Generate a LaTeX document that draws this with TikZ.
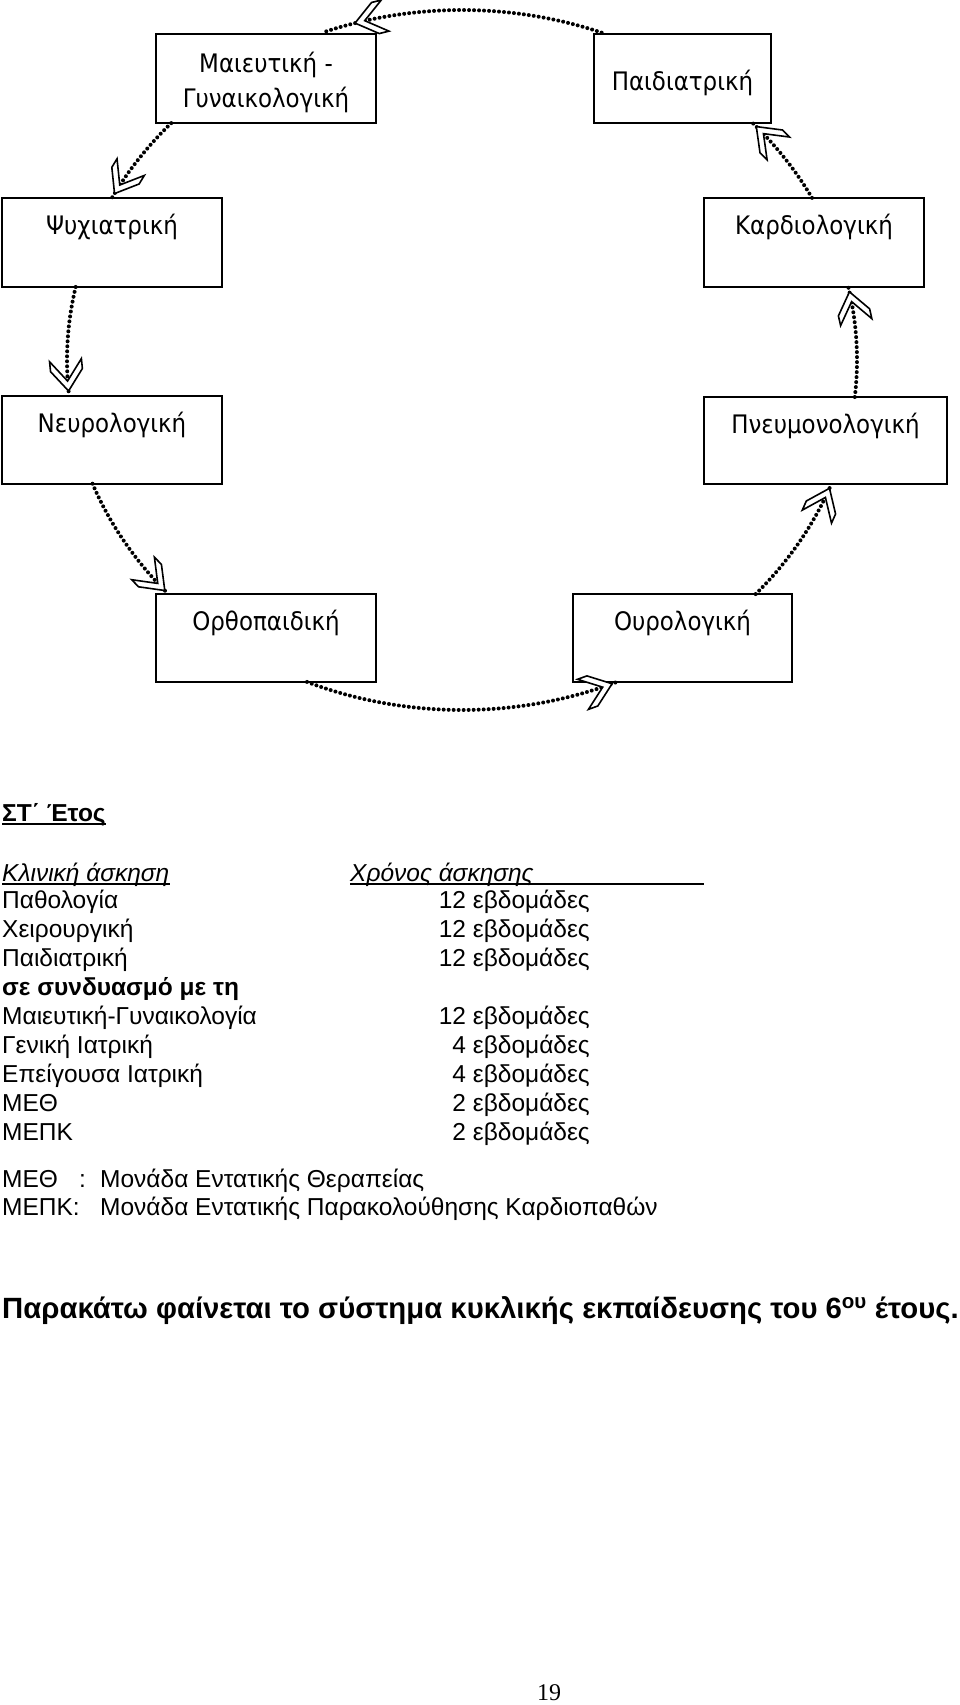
\documentclass[tikz,border=0pt]{standalone}
\usepackage{fontspec}
\setmainfont{Liberation Sans}
\newfontfamily\boxfont[FakeStretch=0.9]{DejaVu Sans}
\newfontfamily\pagefont{Liberation Serif}
\usetikzlibrary{calc,decorations.markings}
\newcommand{\chevtip}{\path[draw=black, fill=white, solid, line width=1.6pt, line join=miter, line cap=butt]
  (0,0) -- (-21,16) -- (-31,16) -- (-10,0) -- (-31,-16) -- (-21,-16) -- cycle;}
\begin{document}
\begin{tikzpicture}[x=1pt,y=1pt,
  box/.style={draw, line width=1.4pt, rectangle, inner sep=0pt, outer sep=0pt, anchor=north west},
  boxtext/.style={font=\boxfont\fontsize{25.5}{30}\selectfont, anchor=base, inner sep=0pt},
  conn/.style={line width=4pt, dash pattern=on 0pt off 5pt, line cap=round,
     postaction={decorate, decoration={markings, mark=at position #1 with {\chevtip}}}},
  conn/.default=-5pt,
  tab/.style={font=\fontsize{24.5}{29}\selectfont, inner sep=0pt, anchor=base west},
  tabr/.style={font=\fontsize{24.5}{29}\selectfont, inner sep=0pt, anchor=base east},
  uline/.style={line width=1.2pt}
]
\useasboundingbox (0,0) rectangle (960,-1705);

% boxes
\node[box, minimum width=220pt, minimum height=89pt] (M)  at (156,-34) {};
\node[box, minimum width=177pt, minimum height=89pt] (P)  at (594,-34) {};
\node[box, minimum width=220pt, minimum height=89pt] (Ps) at (2,-198) {};
\node[box, minimum width=220pt, minimum height=89pt] (K)  at (704,-198) {};
\node[box, minimum width=220pt, minimum height=88pt] (N)  at (2,-396) {};
\node[box, minimum width=243pt, minimum height=87pt] (Pn) at (704,-397) {};
\node[box, minimum width=220pt, minimum height=88pt] (O)  at (156,-594) {};
\node[box, minimum width=219pt, minimum height=88pt] (U)  at (573,-594) {};

% box texts
\node[boxtext] (Mt1) at ($(M.north)+(0,-38)$) {Μαιευτική -};
\node[boxtext] (Mt2) at ($(M.north)+(0,-73)$) {Γυναικολογική};
\node[boxtext] (Pt)  at ($(P.north)+(0,-56)$) {Παιδιατρική};
\node[boxtext] (Pst) at ($(Ps.north)+(0,-36)$) {Ψυχιατρική};
\node[boxtext] (Kt)  at ($(K.north)+(0,-36)$) {Καρδιολογική};
\node[boxtext] (Nt)  at ($(N.north)+(0,-36)$) {Νευρολογική};
\node[boxtext] (Pnt) at ($(Pn.north)+(0,-36)$) {Πνευμονολογική};
\node[boxtext] (Ot)  at ($(O.north)+(0,-36)$) {Ορθοπαιδική};
\node[boxtext] (Ut)  at ($(U.north)+(0,-36)$) {Ουρολογική};

% ring of arrows (arcs of one ellipse)
\coordinate (C) at (462,-360);
\path (C) ++(69.3:395pt and 350pt)   coordinate (a1);
\path (C) ++(137.4:395pt and 350pt)  coordinate (a2);
\path (C) ++(167.96:395pt and 350pt) coordinate (a3);
\path (C) ++(200.7:395pt and 350pt)  coordinate (a4);
\path (C) ++(246.9:395pt and 350pt)  coordinate (a5);
\path (C) ++(318.03:395pt and 350pt) coordinate (a6);
\path (C) ++(353.93:395pt and 350pt) coordinate (a7);
\path (C) ++(27.6:395pt and 350pt)   coordinate (a8);
\draw[conn=-34pt] (a1) arc[start angle=69.3,   end angle=110.7,  x radius=395pt, y radius=350pt];
\draw[conn] (a2) arc[start angle=137.4,  end angle=152.4,  x radius=395pt, y radius=350pt];
\draw[conn] (a3) arc[start angle=167.96, end angle=185.9,  x radius=395pt, y radius=350pt];
\draw[conn] (a4) arc[start angle=200.7,  end angle=221.97, x radius=395pt, y radius=350pt];
\draw[conn] (a5) arc[start angle=246.9,  end angle=293.07, x radius=395pt, y radius=350pt];
\draw[conn] (a6) arc[start angle=318.03, end angle=339.3,  x radius=395pt, y radius=350pt];
\draw[conn] (a7) arc[start angle=353.93, end angle=372.04, x radius=395pt, y radius=350pt];
\draw[conn] (a8) arc[start angle=27.6,   end angle=42.6,   x radius=395pt, y radius=350pt];

% table
\node[tab, font=\bfseries\fontsize{24.5}{29}\selectfont] (st) at (2,-821) {ΣΤ΄ Έτος};
\draw[uline] ($(st.base west)+(0,-3)$) -- ($(st.base east)+(0,-3)$);
\node[tab, font=\itshape\fontsize{24.5}{29}\selectfont] (kl) at (2,-881) {Κλινική άσκηση};
\draw[uline] ($(kl.base west)+(0,-3)$) -- ($(kl.base east)+(0,-3)$);
\node[tab, font=\itshape\fontsize{24.5}{29}\selectfont] (xr) at (350,-881) {Χρόνος άσκησης};
\draw[uline] ($(xr.base west)+(0,-3)$) -- ($(xr.base west)+(354,-3)$);

\node[tab] (r1) at (2,-908)  {Παθολογία};
\node[tab] (r2) at (2,-937)  {Χειρουργική};
\node[tab] (r3) at (2,-966)  {Παιδιατρική};
\node[tab, font=\bfseries\fontsize{24.5}{29}\selectfont] (r4) at (2,-995) {σε συνδυασμό με τη};
\node[tab] (r5) at (2,-1024) {Μαιευτική-Γυναικολογία};
\node[tab] (r6) at (2,-1053) {Γενική Ιατρική};
\node[tab] (r7) at (2,-1082) {Επείγουσα Ιατρική};
\node[tab] (r8) at (2,-1111) {ΜΕΘ};
\node[tab] (r9) at (2,-1140) {ΜΕΠΚ};

\node[tabr] (w1) at (590,-908)  {12 εβδομάδες};
\node[tabr] (w2) at (590,-937)  {12 εβδομάδες};
\node[tabr] (w3) at (590,-966)  {12 εβδομάδες};
\node[tabr] (w5) at (590,-1024) {12 εβδομάδες};
\node[tabr] (w6) at (590,-1053) {4 εβδομάδες};
\node[tabr] (w7) at (590,-1082) {4 εβδομάδες};
\node[tabr] (w8) at (590,-1111) {2 εβδομάδες};
\node[tabr] (w9) at (590,-1140) {2 εβδομάδες};

% legend
\node[tab] (l1a) at (2,-1187)   {ΜΕΘ};
\node[tab] (l1b) at (79,-1187)  {:};
\node[tab] (l1c) at (100,-1187) {Μονάδα Εντατικής Θεραπείας};
\node[tab] (l2a) at (2,-1215)   {ΜΕΠΚ:};
\node[tab] (l2c) at (100,-1215) {Μονάδα Εντατικής Παρακολούθησης Καρδιοπαθών};

% closing sentence
\node[tab, font=\bfseries\fontsize{29.3}{34}\selectfont] (bt) at (2,-1318)
  {Παρακάτω φαίνεται το σύστημα κυκλικής εκπαίδευσης του 6\textsuperscript{ου} έτους.};

% page number
\node[font=\pagefont\fontsize{24}{28}\selectfont, anchor=base, inner sep=0pt] (pg) at (549,-1700) {19};
\end{tikzpicture}
\end{document}
